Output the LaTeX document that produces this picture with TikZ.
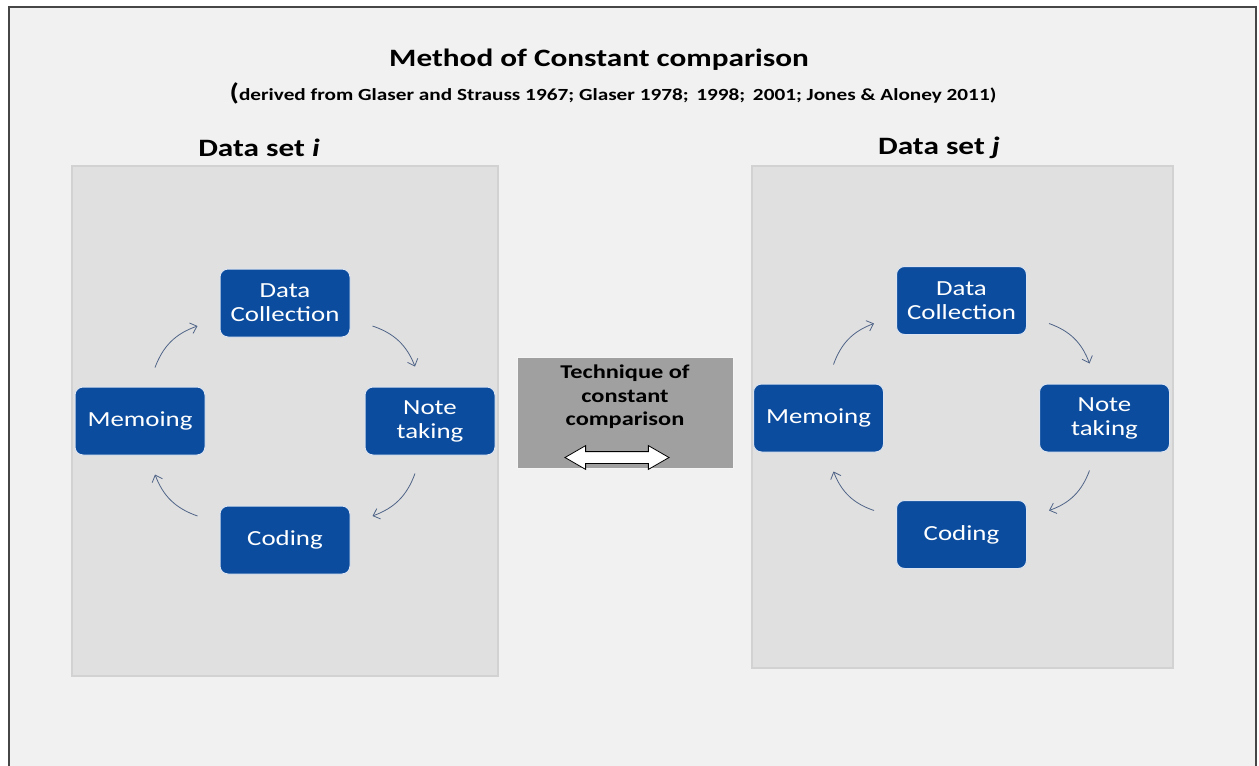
\documentclass[tikz,border=0pt]{standalone}
\usepackage{fontspec}
\setmainfont{Carlito}[FakeStretch=1.25]
\usetikzlibrary{arrows.meta,calc,shapes.arrows}

\definecolor{pagebg}{RGB}{241,241,241}
\definecolor{framec}{RGB}{70,70,70}
\definecolor{panelbg}{RGB}{224,224,224}
\definecolor{paneledge}{RGB}{210,210,210}
\definecolor{stepblue}{RGB}{12,76,158}
\definecolor{cyclec}{RGB}{80,100,135}
\definecolor{midgray}{RGB}{160,160,160}

\tikzset{
  stepbox/.style={rectangle, rounded corners=8pt, fill=stepblue, draw=white!85!stepblue,
    line width=1pt, text=white, align=center, font=\fontsize{21.5}{24}\selectfont,
    minimum width=130pt, minimum height=68pt, inner sep=0pt},
  panel/.style={fill=panelbg, draw=paneledge, line width=1.5pt},
  cyc/.style={draw=cyclec, line width=0.8pt, -{Straight Barb[length=6pt,width=11pt]}, bend left=25},
  heading/.style={font=\bfseries\fontsize{25}{28}\selectfont}
}

\begin{document}
\begin{tikzpicture}[x=1pt,y=-1pt]
\useasboundingbox (0,0) rectangle (1259,766);
% page and its frame (open at the bottom)
\fill[white] (0,0) rectangle (1259,766);
\fill[pagebg] (9,7) rectangle (1256,766);
\draw[framec, line width=1.5pt] (9,766) -- (9,7) -- (1256,7) -- (1256,766);

% titles
\node[font=\bfseries\fontsize{25}{30}\selectfont] (title) at (599,60) {Method of Constant comparison};
\node[font=\bfseries\fontsize{17}{20}\selectfont] (sub) at (613,93)
  {{\fontsize{24}{24}\selectfont(}derived from Glaser and Strauss 1967; Glaser 1978;\, 1998;\, 2001; Jones \& Aloney 2011)};
\node[heading] (hi) at (259,148) {Data set \textit{i}};
\node[heading] (hj) at (939,148) {Data set \textit{j}};

% panels
\path[panel] (72,166) rectangle (498,676);
\path[panel] (752,166) rectangle (1173,668);

% left cycle
\node[stepbox] (dcL) at (285,303) {Data\\Collection};
\node[stepbox] (ntL) at (430,421) {Note\\taking};
\node[stepbox] (coL) at (285,540) {Coding};
\node[stepbox] (meL) at (140,421) {Memoing};

% right cycle
\node[stepbox] (dcR) at (961.5,300.5) {Data\\Collection};
\node[stepbox] (ntR) at (1104.5,418) {Note\\taking};
\node[stepbox] (coR) at (961.5,534.5) {Coding};
\node[stepbox] (meR) at (818.5,418) {Memoing};

% clockwise arrows between the steps
\foreach \s in {L,R}{
  \draw[cyc] ($(me\s.north)+(15,-19)$) to ($(dc\s.west)+(-22,23)$);
  \draw[cyc] ($(dc\s.east)+(22,23)$) to ($(nt\s.north)+(-15,-20)$);
  \draw[cyc] ($(nt\s.south)+(-15,18)$) to ($(co\s.east)+(22,-24)$);
  \draw[cyc] ($(co\s.west)+(-22,-24)$) to ($(me\s.south)+(15,19)$);
}

% technique box with double arrow
\node[rectangle, fill=midgray, draw=white!90!midgray, line width=1pt,
  minimum width=216pt, minimum height=111pt, inner sep=0pt] (tech) at (625,412.5) {};
\node[font=\bfseries\fontsize{19.5}{23.5}\selectfont, align=center, anchor=north] (techtxt)
  at ($(tech.north)+(0,5)$) {Technique of\\constant\\comparison};
\node[double arrow, draw=black, fill=white, line width=0.8pt,
  inner xsep=0pt, inner ysep=5.5pt, minimum width=0pt, minimum height=104pt,
  double arrow head extend=6pt, double arrow tip angle=60] (dbl)
  at (617,457.5) {};
\end{tikzpicture}
\end{document}
